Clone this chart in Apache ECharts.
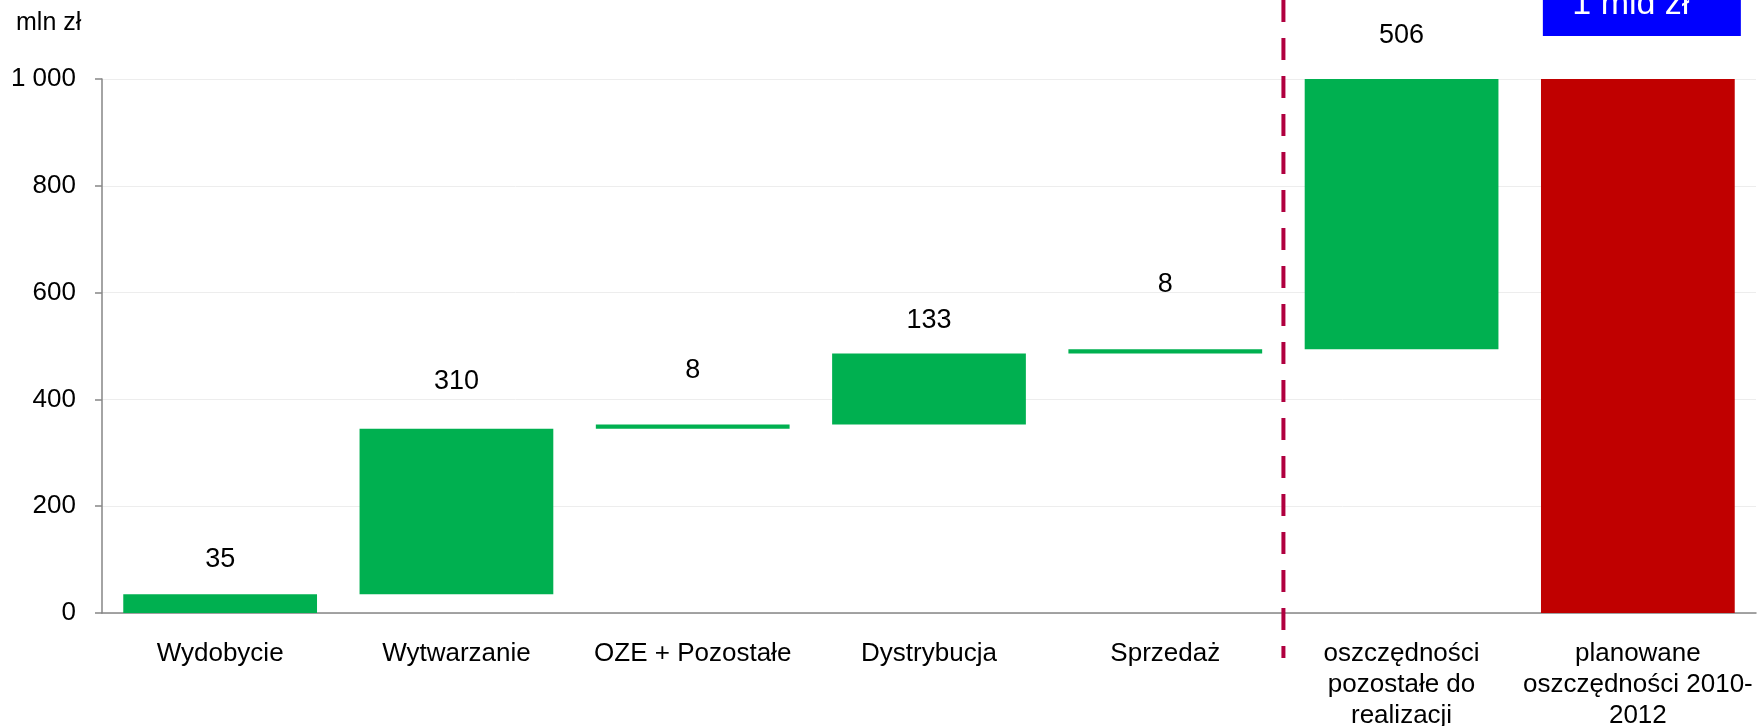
<!DOCTYPE html>
<html>
<head>
<meta charset="utf-8">
<script src="https://cdn.jsdelivr.net/npm/echarts@6/dist/echarts.min.js"></script>
<style>
html, body { margin: 0; padding: 0; background: #fff; }
#chart { width: 1762px; height: 726px; }
</style>
</head>
<body>
<div id="chart"></div>
<script>
// categories and values (mln zł)
var categories = ['Wydobycie', 'Wytwarzanie', 'OZE + Pozostałe', 'Dystrybucja', 'Sprzedaż',
    'oszczędności\npozostałe do\nrealizacji', 'planowane\noszczędności 2010-\n2012'];
var values = [35, 310, 8, 133, 8, 506, 1000];
var yTicks = [0, 200, 400, 600, 800, 1000];
var unitName = 'mln zł';
var totalNote = '1 mld zł';

// the last bar is the total, the other ones float on the running sum
var base = [];
var run = 0;
for (var i = 0; i < values.length; i++) {
    if (i === values.length - 1) {
        base.push(0);
    } else {
        base.push(run);
        run += values[i];
    }
}

// label lift above each bar (px), the labels in the original sit unevenly
var labelGap = [21, 34, 40, 19, 51, 30, 0];
var fontFam = '"Liberation Sans", Arial, sans-serif';

var deltaData = values.map(function(v, i) {
    var last = i === values.length - 1;
    return {
        value: v,
        itemStyle: { color: last ? '#C00000' : '#00B050' },
        label: { show: !last, distance: labelGap[i] }
    };
});

var myChart = echarts.init(document.getElementById('chart'));

var option = {
    animation: false,
    grid: { left: 102, right: 6, top: 79, bottom: 113, outerBoundsMode: 'none' },
    xAxis: {
        type: 'category',
        data: categories,
        axisLine: { lineStyle: { color: '#868686', width: 1.5 } },
        axisTick: { length: 8, lineStyle: { color: '#868686', width: 1.5 } },
        axisLabel: {
            interval: 0,
            color: '#000',
            fontSize: 26,
            lineHeight: 31,
            margin: 25,
            fontFamily: fontFam
        }
    },
    yAxis: {
        type: 'value',
        min: yTicks[0],
        max: yTicks[yTicks.length - 1],
        interval: yTicks[1] - yTicks[0],
        axisLine: { show: true, lineStyle: { color: '#868686', width: 1.5 } },
        axisTick: { show: true, length: 7, lineStyle: { color: '#868686', width: 1.5 } },
        splitLine: { lineStyle: { color: '#EDEDED', width: 1 } },
        axisLabel: {
            color: '#000',
            fontSize: 26,
            margin: 26,
            fontFamily: fontFam,
            formatter: function(v) {
                return String(v).replace(/\B(?=(\d{3})+(?!\d))/g, ' ');
            }
        }
    },
    series: [
        {
            name: 'base',
            type: 'bar',
            stack: 'w',
            silent: true,
            barWidth: '82%',
            itemStyle: { color: 'transparent' },
            data: base
        },
        {
            name: 'delta',
            type: 'bar',
            stack: 'w',
            barWidth: '82%',
            label: {
                position: 'top',
                color: '#000',
                fontSize: 27,
                fontFamily: fontFam
            },
            data: deltaData
        }
    ]
};

myChart.setOption(option);

// extra marks: dashed separator, unit text, blue note box
var px = function(i) {
    return myChart.convertToPixel({ xAxisIndex: 0 }, i);
};
var sepX = (px(4) + px(5)) / 2;
var cx = px(6);

myChart.setOption({
    graphic: [
        {
            type: 'line',
            shape: { x1: sepX, y1: 0, x2: sepX, y2: 658 },
            style: { stroke: '#B0003F', lineWidth: 4, lineDash: [22, 16] },
            z: 10
        },
        {
            type: 'text',
            left: 16,
            top: 11,
            style: { text: unitName, fill: '#000', font: '25px ' + fontFam }
        },
        {
            type: 'rect',
            shape: { x: cx - 95, y: 0, width: 198, height: 36 },
            style: { fill: '#0000FF' },
            z: 10
        },
        {
            type: 'text',
            x: cx - 7,
            y: 5,
            style: {
                text: totalNote,
                fill: '#fff',
                font: '34px ' + fontFam,
                align: 'center',
                verticalAlign: 'middle'
            },
            z: 11
        }
    ]
});
</script>
</body>
</html>
